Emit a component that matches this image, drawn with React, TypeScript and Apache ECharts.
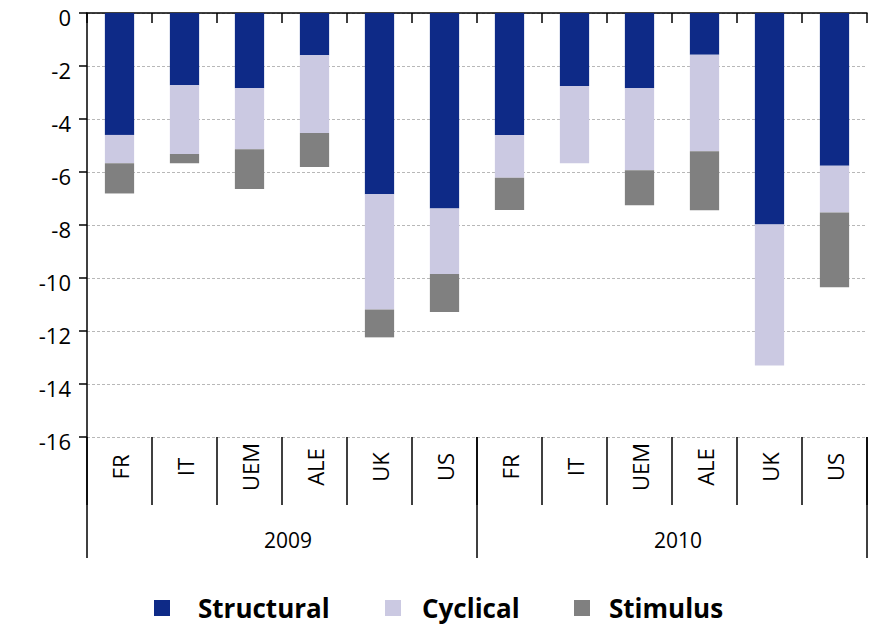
import React, { useEffect, useRef } from "react";
import * as echarts from "echarts";

// Country codes, repeated for each year group
const countries = ["FR", "IT", "UEM", "ALE", "UK", "US", "FR", "IT", "UEM", "ALE", "UK", "US"];
const years = ["2009", "2010"];

// Budget balance decomposition (% of GDP)
const structural = [-4.6, -2.73, -2.84, -1.59, -6.84, -7.38, -4.6, -2.75, -2.84, -1.58, -7.98, -5.76];
const cyclical = [-1.07, -2.59, -2.3, -2.94, -4.35, -2.47, -1.62, -2.92, -3.09, -3.64, -5.32, -1.77];
const stimulus = [-1.14, -0.35, -1.5, -1.28, -1.05, -1.43, -1.21, 0, -1.32, -2.22, 0, -2.82];

const yTicks = { min: -16, max: 0, interval: 2 };

const FONT = "Open Sans";

export default function App() {
  const ref = useRef<HTMLDivElement>(null);

  useEffect(() => {
    if (!ref.current) return;
    const chart = echarts.init(ref.current, undefined, { renderer: "svg" });

    const legendText = {
      fontFamily: FONT,
      fontSize: 26,
      fontWeight: "bold" as const,
      color: "#000",
    };
    const legendBase = {
      orient: "horizontal" as const,
      top: 590,
      icon: "rect",
      itemWidth: 16,
      itemHeight: 16,
    };

    chart.setOption({
      animation: false,
      textStyle: { fontFamily: FONT },
      grid: { left: 87, right: 4, top: 13, bottom: 188, containLabel: false },
      legend: [
        { ...legendBase, left: 149, data: ["Structural"], textStyle: { ...legendText, padding: [40, 0, 0, 23] } },
        { ...legendBase, left: 380, data: ["Cyclical"], textStyle: { ...legendText, padding: [40, 0, 0, 16] } },
        { ...legendBase, left: 569, data: ["Stimulus"], textStyle: { ...legendText, padding: [40, 0, 0, 14] } },
      ],
      xAxis: [
        {
          type: "category",
          data: countries,
          position: "bottom",
          axisLine: { show: false, onZero: false },
          axisTick: { show: true, interval: 0, length: 68, lineStyle: { color: "#000", width: 1.5 } },
          axisLabel: {
            interval: 0,
            rotate: 90,
            align: "center",
            verticalAlign: "middle",
            margin: 30,
            fontSize: 22,
            color: "#000",
            fontFamily: FONT,
          },
        },
        {
          type: "category",
          data: years,
          position: "bottom",
          axisLine: { show: false, onZero: false },
          axisTick: { show: true, interval: 0, length: 121, lineStyle: { color: "#000", width: 1.5 } },
          axisLabel: {
            interval: 0,
            margin: 92,
            fontSize: 21,
            color: "#000",
            fontFamily: FONT,
            padding: [0, 0, 0, 12],
          },
        },
        {
          type: "category",
          data: countries,
          position: "top",
          axisLine: { show: true, onZero: false, lineStyle: { color: "#000", width: 1.5 } },
          axisTick: { show: true, interval: 0, inside: true, length: 10, lineStyle: { color: "#000", width: 1.5 } },
          axisLabel: { show: false },
        },
      ],
      yAxis: {
        type: "value",
        min: yTicks.min,
        max: yTicks.max,
        interval: yTicks.interval,
        axisLine: { show: true, lineStyle: { color: "#000", width: 1.5 } },
        axisTick: { show: true, length: 8, lineStyle: { color: "#000", width: 1.5 } },
        axisLabel: {
          fontSize: 22,
          lineHeight: 8,
          verticalAlign: "top",
          color: "#000",
          margin: 16,
          fontFamily: FONT,
        },
        splitLine: { show: true, lineStyle: { color: "#b8b8b8", type: [3, 2], width: 1.2 } },
      },
      series: [
        { name: "Structural", type: "bar", stack: "balance", xAxisIndex: 0, barWidth: "45%", data: structural, itemStyle: { color: "#0e2a87" } },
        { name: "Cyclical", type: "bar", stack: "balance", xAxisIndex: 0, barWidth: "45%", data: cyclical, itemStyle: { color: "#cbc9e2" } },
        { name: "Stimulus", type: "bar", stack: "balance", xAxisIndex: 0, barWidth: "45%", data: stimulus, itemStyle: { color: "#808080" } },
      ],
    });

    return () => chart.dispose();
  }, []);

  return (
    <div
      ref={ref}
      style={{ position: "fixed", left: 0, top: 0, width: 871, height: 625, background: "#fff" }}
    />
  );
}
